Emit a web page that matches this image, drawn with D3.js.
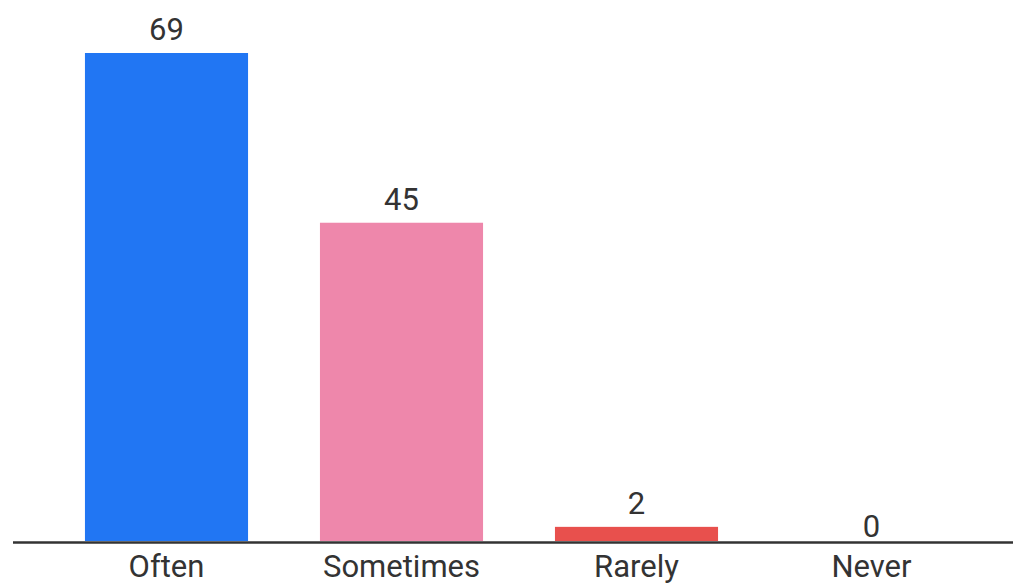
<!DOCTYPE html>
<html>
<head>
<meta charset="utf-8">
<script src="https://cdn.jsdelivr.net/npm/d3@7"></script>
<style>
body{margin:0;background:#fff;}
text{font-family:Roboto,"Noto Sans",sans-serif;fill:#333;}
</style>
</head>
<body>
<div class="main"></div>
<script>
var categories=['Often','Sometimes','Rarely','Never'];
var values=[69,45,2,0];
var colors=['#2176F3','#EE87AB','#E8504D','#999999'];

var width=1013,height=583;
var baseY=541;

var svg=d3.select('.main').append('svg')
          .attr('width',width)
          .attr('height',height);

var x=d3.scaleBand()
        .domain(categories)
        .range([49,989])
        .paddingInner(0.306)
        .paddingOuter(0.153);

var y=d3.scaleLinear()
        .domain([0,69])
        .range([baseY,53]);

// bars
svg.selectAll('.bar')
    .data(values)
    .enter().append('rect')
    .attr('class','bar')
    .attr('x',function(d,i){return x(categories[i]);})
    .attr('y',function(d){return y(d);})
    .attr('width',x.bandwidth())
    .attr('height',function(d){return baseY-y(d);})
    .style('fill',function(d,i){return colors[i];});

// value labels
svg.selectAll('.val')
    .data(values)
    .enter().append('text')
    .attr('class','val')
    .attr('x',function(d,i){return x(categories[i])+x.bandwidth()/2;})
    .attr('y',function(d){return d>0 ? y(d)-13 : y(d)-4;})
    .attr('text-anchor','middle')
    .style('font-size','31px')
    .text(function(d){return d;});

// x axis
var xAxis=d3.axisBottom(x).tickSize(0).tickPadding(14);
var xAxisGroup=svg.append('g')
    .attr('transform','translate(0,'+(baseY+1.5)+')')
    .call(xAxis);
xAxisGroup.select('.domain').remove();
xAxisGroup.append('line')
    .attr('x1',13).attr('x2',width)
    .attr('y1',0).attr('y2',0)
    .style('stroke','#333').style('stroke-width',2.5);
xAxisGroup.selectAll('.tick text')
    .style('font-size','31px')
    .style('fill','#333')
    .attr('dy','0.66em');
</script>
</body>
</html>
